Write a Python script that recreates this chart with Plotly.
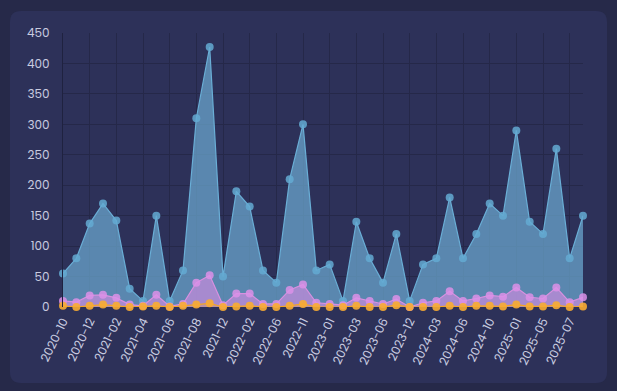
import plotly.graph_objects as go

months = ["2020-10", "2020-11", "2020-12", "2021-01", "2021-02", "2021-03", "2021-04", "2021-05",
          "2021-06", "2021-07", "2021-08", "2021-10", "2021-12", "2022-01", "2022-02", "2022-04",
          "2022-06", "2022-08", "2022-11", "2022-12", "2023-01", "2023-02", "2023-03", "2023-04",
          "2023-06", "2023-09", "2023-12", "2024-02", "2024-03", "2024-05", "2024-06", "2024-08",
          "2024-10", "2024-12", "2025-01", "2025-03", "2025-05", "2025-06", "2025-07", "2025-08"]

series_a = [55, 80, 137, 170, 142, 30, 10, 150, 10, 60, 310, 427, 50, 190, 165, 60, 40, 210, 300, 60,
            70, 10, 140, 80, 40, 120, 10, 70, 80, 180, 80, 120, 170, 150, 290, 140, 120, 260, 80, 150]
series_b = [10, 8, 19, 20, 15, 4, 2, 20, 1, 5, 40, 52, 3, 22, 22, 5, 5, 28, 37, 7,
            5, 3, 15, 10, 5, 13, 0, 7, 10, 26, 10, 14, 19, 17, 32, 16, 14, 32, 8, 16]
series_c = [2, 0, 2, 4, 2, 0, 1, 2, 0, 2, 4, 6, 0, 1, 2, 0, 0, 2, 5, 0,
            0, 0, 2, 0, 0, 3, 0, 0, 0, 2, 0, 2, 2, 1, 4, 1, 1, 3, 0, 1]

tick_labels = months[::2]

W, H = 617, 391
L, R, T, B = 63, 34, 33, 84
pw, ph = W - L - R, H - T - B

FONT = "Poppins, Inter, 'Open Sans', sans-serif"

fig = go.Figure()
styles = [
    (series_a, "rgba(110,172,212,0.7)", "#6aaed6", "rgba(100,170,210,0.85)"),
    (series_b, "rgba(214,140,228,0.62)", "#d890e0", "rgba(220,145,232,0.85)"),
    (series_c, "rgba(245,166,35,0.25)", "#f5a623", "rgba(248,172,50,0.9)"),
]
for vals, fillc, linec, markc in styles:
    fig.add_trace(go.Scatter(
        x=months, y=vals, mode="lines+markers", fill="tozeroy", fillcolor=fillc,
        line=dict(color=linec, width=1.2), cliponaxis=False,
        marker=dict(size=8, color=markc, line=dict(width=0)),
        hoverinfo="skip", showlegend=False,
    ))

# rounded card behind the chart (coordinates in paper units)
def px2x(p):
    return (p - L) / pw

def py2y(p):
    return (H - B - p) / ph

x0, x1, y0, y1, r = 10, 607, 11, 383, 11
path = (f"M {px2x(x0 + r)},{py2y(y0)} L {px2x(x1 - r)},{py2y(y0)} "
        f"Q {px2x(x1)},{py2y(y0)} {px2x(x1)},{py2y(y0 + r)} "
        f"L {px2x(x1)},{py2y(y1 - r)} Q {px2x(x1)},{py2y(y1)} {px2x(x1 - r)},{py2y(y1)} "
        f"L {px2x(x0 + r)},{py2y(y1)} Q {px2x(x0)},{py2y(y1)} {px2x(x0)},{py2y(y1 - r)} "
        f"L {px2x(x0)},{py2y(y0 + r)} Q {px2x(x0)},{py2y(y0)} {px2x(x0 + r)},{py2y(y0)} Z")
fig.add_shape(type="path", path=path, xref="paper", yref="paper", layer="below",
              fillcolor="#2d3159", line=dict(width=0))

fig.update_layout(
    width=W, height=H,
    margin=dict(l=L, r=R, t=T, b=B, pad=0),
    paper_bgcolor="#262949",
    plot_bgcolor="rgba(0,0,0,0)",
    font=dict(family=FONT, size=12, color="#c9cce0"),
    hovermode=False,
    xaxis=dict(
        type="category", range=[0, len(months) - 1],
        tickmode="array", tickvals=tick_labels, ticktext=tick_labels,
        tickangle=-64, showgrid=True, gridcolor="#252849", gridwidth=1,
        zeroline=False, showline=False, ticks="", ticklabelstandoff=4,
        tickfont=dict(size=12, color="#c9cce0"),
    ),
    yaxis=dict(
        range=[0, 450], dtick=50, showgrid=True, gridcolor="#252849", gridwidth=1,
        zeroline=False, showline=True, linecolor="#1f2240", linewidth=1,
        ticks="", ticklabelstandoff=10, tickfont=dict(size=12, color="#c9cce0"),
    ),
)

fig.write_html(
    "out.html",
    config={"displayModeBar": False, "staticPlot": True},
    post_script="document.body.style.margin='0';document.body.style.background='#262949';",
)
